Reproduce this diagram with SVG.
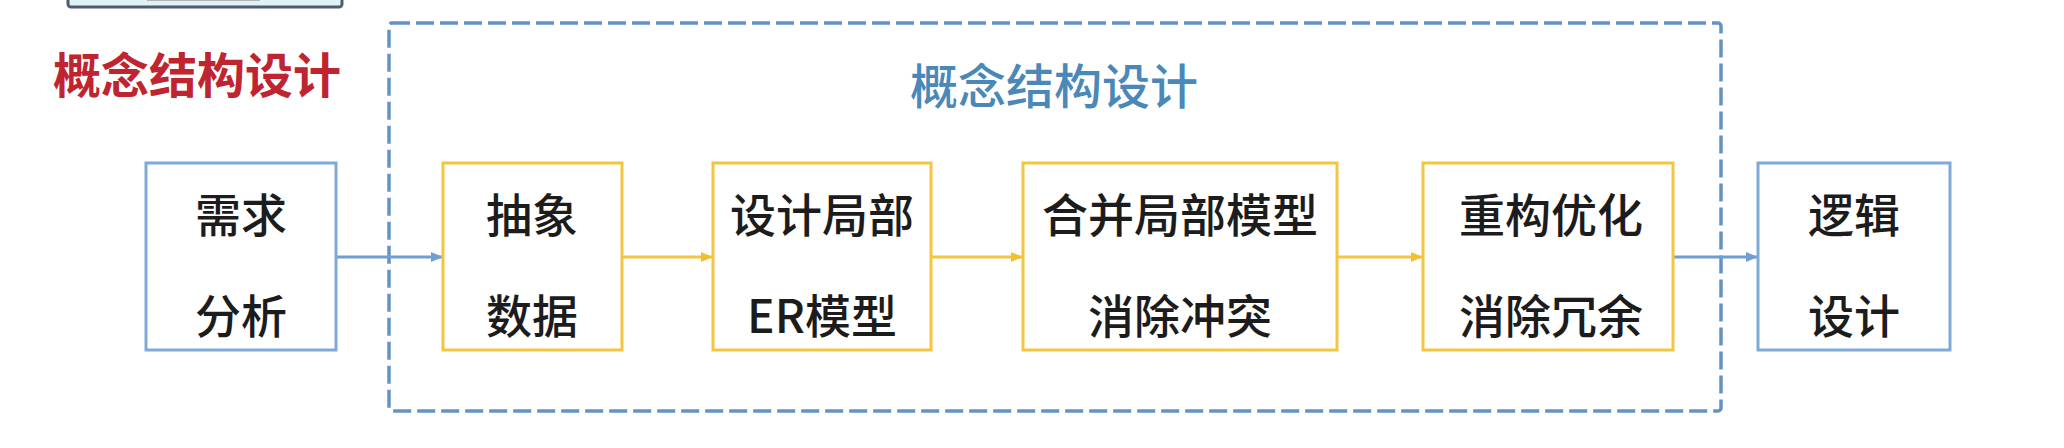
<svg xmlns="http://www.w3.org/2000/svg" width="2064" height="448" viewBox="0 0 2064 448">
<defs>
<style>
.bb{fill:#fff;stroke:#7fa9d6;stroke-width:3}
.yb{fill:#fff;stroke:#f3c640;stroke-width:3}
.t{font-family:"Noto Sans CJK SC","Noto Sans",sans-serif;font-size:46px;font-weight:500;fill:#1c1c1c;text-anchor:middle}
.bl{stroke:#6f9fd2;stroke-width:3;fill:none}
.yl{stroke:#f3c640;stroke-width:3;fill:none}
</style>
<marker id="ab" markerWidth="12" markerHeight="10" refX="12" refY="5" orient="auto" markerUnits="userSpaceOnUse"><path d="M0,0 L12,5 L0,10 Z" fill="#6f9fd2"/></marker>
<marker id="ay" markerWidth="12" markerHeight="10" refX="12" refY="5" orient="auto" markerUnits="userSpaceOnUse"><path d="M0,0 L12,5 L0,10 Z" fill="#f0c030"/></marker>
</defs>
<rect width="2064" height="448" fill="#fff"/>
<g id="topbox">
<rect x="68" y="-12" width="274" height="19" rx="3" fill="#dff2f7" stroke="#4d5d6d" stroke-width="3"/>
<rect x="147" y="-3" width="113" height="4" fill="#b5b5b5"/>
</g>
<g id="red-title"><text x="197" y="93" font-family="'Noto Sans CJK SC',sans-serif" font-size="48" font-weight="bold" fill="#bf2530" text-anchor="middle">概念结构设计</text></g>
<g id="group">
<rect x="389" y="23" width="1332" height="388" rx="3" fill="none" stroke="#6592c2" stroke-width="3.5" stroke-dasharray="18 6"/>
<text x="1054" y="104" font-family="'Noto Sans CJK SC',sans-serif" font-size="48" font-weight="500" fill="#4a88b9" text-anchor="middle">概念结构设计</text>
</g>
<g id="connectors">
<line class="bl" x1="336" y1="257" x2="443" y2="257" marker-end="url(#ab)"/>
<line class="yl" x1="622" y1="257" x2="713" y2="257" marker-end="url(#ay)"/>
<line class="yl" x1="931" y1="257" x2="1023" y2="257" marker-end="url(#ay)"/>
<line class="yl" x1="1337" y1="257" x2="1423" y2="257" marker-end="url(#ay)"/>
<line class="bl" x1="1673" y1="257" x2="1758" y2="257" marker-end="url(#ab)"/>
</g>
<g id="n1"><rect class="bb" x="146" y="163" width="190" height="187"/><text class="t" x="241" y="232">需求</text><text class="t" x="241" y="333">分析</text></g>
<g id="n2"><rect class="yb" x="443" y="163" width="179" height="187"/><text class="t" x="532" y="232">抽象</text><text class="t" x="532" y="333">数据</text></g>
<g id="n3"><rect class="yb" x="713" y="163" width="218" height="187"/><text class="t" x="822" y="232">设计局部</text><text class="t" x="822" y="333">ER模型</text></g>
<g id="n4"><rect class="yb" x="1023" y="163" width="314" height="187"/><text class="t" x="1180" y="232">合并局部模型</text><text class="t" x="1180" y="333">消除冲突</text></g>
<g id="n5"><rect class="yb" x="1423" y="163" width="250" height="187"/><text class="t" x="1551" y="232">重构优化</text><text class="t" x="1551" y="333">消除冗余</text></g>
<g id="n6"><rect class="bb" x="1758" y="163" width="192" height="187"/><text class="t" x="1854" y="232">逻辑</text><text class="t" x="1854" y="333">设计</text></g>
</svg>
